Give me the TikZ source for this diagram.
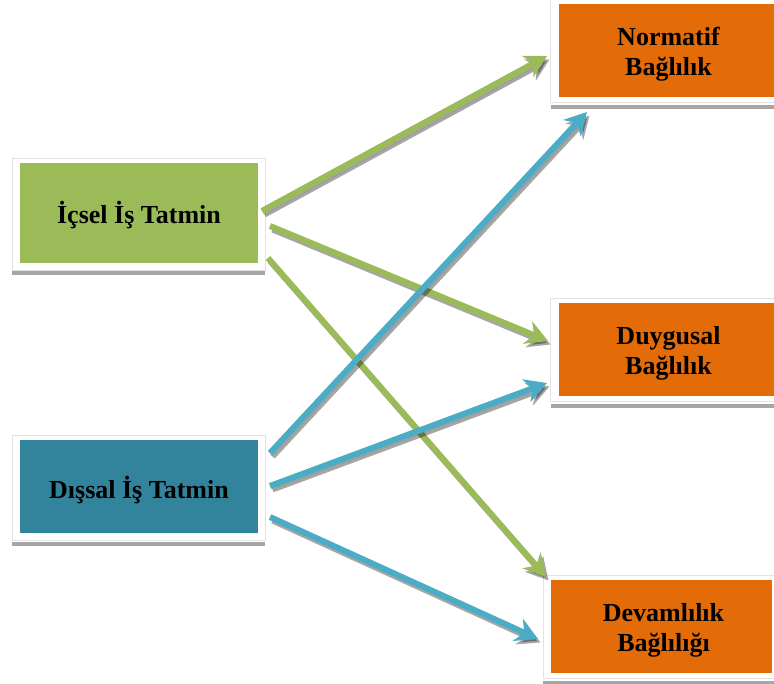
\documentclass[tikz,border=0pt]{standalone}
\usepackage{fontspec}
\setmainfont{Liberation Serif}
\usetikzlibrary{arrows.meta}
\definecolor{boxgreen}{HTML}{9BBB59}
\definecolor{boxteal}{HTML}{31849B}
\definecolor{boxorange}{HTML}{E36C09}
\definecolor{arrowblue}{HTML}{4BACC6}
\definecolor{framegray}{HTML}{E2E2E2}
\definecolor{shadowgray}{HTML}{A6A6A6}
\tikzset{
  frame/.style={fill=white, draw=framegray, line width=0.8pt},
  baseline shadow/.style={draw=shadowgray, line width=4pt},
  conceptbox/.style={minimum width=#1, inner sep=0pt},
  boxtext/.style={inner sep=0pt, align=center,
    font=\fontsize{26}{30}\selectfont\bfseries, text=black},
  flow/.style={line width=6pt, draw=#1,
    -{Stealth[length=22pt, width=24pt, inset=7pt]},
    preaction={draw=black, fill=black, opacity=0.35, line width=6pt,
      transform canvas={shift={(2.5pt,-3.5pt)}}}},
}
\begin{document}
\begin{tikzpicture}[x=1pt, y=-1pt]
\useasboundingbox (0,0) rectangle (774,684);

% white frames with a grey rule beneath
\draw[frame] (12,158) rectangle (265,270);
\draw[baseline shadow] (12,273) -- (265,273);
\draw[frame] (12,435) rectangle (265,540);
\draw[baseline shadow] (12,544) -- (265,544);
\draw[frame] (550,-1) rectangle (775,102);
\draw[baseline shadow] (551,107) -- (774,107);
\draw[frame] (550,298) rectangle (775,401);
\draw[baseline shadow] (551,406) -- (774,406);
\draw[frame] (543,575) rectangle (775,678);
\draw[baseline shadow] (543,683) -- (774,683);

% coloured concept boxes
\node[conceptbox=238pt, minimum height=100pt, fill=boxgreen] (icsel) at (139,213) {};
\node[conceptbox=238pt, minimum height=93pt, fill=boxteal] (dissal) at (139,486.5) {};
\node[conceptbox=215pt, minimum height=93pt, fill=boxorange] (normatif) at (666.5,50.5) {};
\node[conceptbox=215pt, minimum height=93pt, fill=boxorange] (duygusal) at (666.5,349.5) {};
\node[conceptbox=221pt, minimum height=93pt, fill=boxorange] (devam) at (661.5,626.5) {};

% their labels, set a little below centre
\node[boxtext] (icsel-t) at ([yshift=-2.5pt]icsel.center) {İçsel İş Tatmin};
\node[boxtext] (dissal-t) at ([yshift=-3.5pt]dissal.center) {Dışsal İş Tatmin};
\node[boxtext] (normatif-t) at ([xshift=2pt, yshift=-4pt]normatif.center) {Normatif\\Bağlılık};
\node[boxtext] (duygusal-t) at ([xshift=2pt, yshift=-4pt]duygusal.center) {Duygusal\\Bağlılık};
\node[boxtext] (devam-t) at ([xshift=2pt, yshift=-4pt]devam.center) {Devamlılık\\Bağlılığı};

% arrow ends
\coordinate (g1s) at (262,211);
\coordinate (g1e) at (547,56);
\coordinate (g2s) at (270,226);
\coordinate (g2e) at (548,341);
\coordinate (g3s) at (268,258);
\coordinate (g3e) at (546,577);
\coordinate (b1s) at (270,453);
\coordinate (b1e) at (587,112);
\coordinate (b2s) at (270,486);
\coordinate (b2e) at (547,383);
\coordinate (b3s) at (270,517);
\coordinate (b3e) at (538,639);

% links from the job satisfaction boxes
\draw[flow=boxgreen] (g1s) -- (g1e);
\draw[flow=boxgreen] (g2s) -- (g2e);
\draw[flow=boxgreen] (g3s) -- (g3e);
\draw[flow=arrowblue] (b1s) -- (b1e);
\draw[flow=arrowblue] (b2s) -- (b2e);
\draw[flow=arrowblue] (b3s) -- (b3e);
\end{tikzpicture}
\end{document}
